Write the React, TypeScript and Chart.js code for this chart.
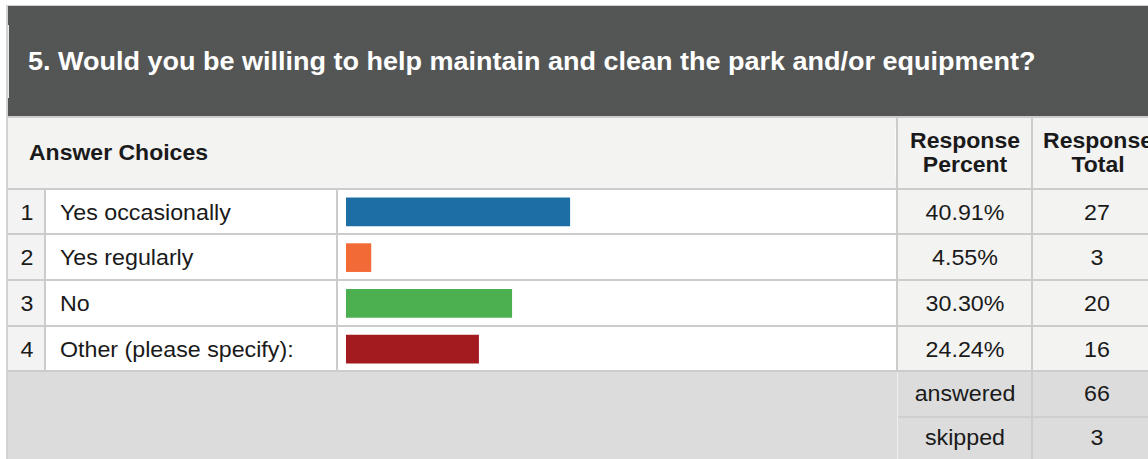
import React, { useEffect, useRef } from "react";
import { Chart, registerables } from "chart.js";

Chart.register(...registerables);

// ---- data ----
const questionTitle = "5. Would you be willing to help maintain and clean the park and/or equipment?";
const categories = ["Yes occasionally", "Yes regularly", "No", "Other (please specify):"];
const responsePercent = [40.91, 4.55, 30.3, 24.24];
const responseTotal = [27, 3, 20, 16];
const answeredCount = 66;
const skippedCount = 3;

// ---- style ----
const barColors = ["#1c6ea4", "#f26a35", "#4caf50", "#a31b1f"];
const FONT = '"Liberation Sans", Arial, Helvetica, sans-serif';
const TEXT = "#1a1a1a";
const LINE = "#cccccc";

type TProps = {
  x: number;
  base: number;
  fs: number;
  bold?: boolean;
  align?: "left" | "center";
  color?: string;
  sx?: number;
  children: React.ReactNode;
};

function T({ x, base, fs, bold, align = "left", color = TEXT, sx = 1.08, children }: TProps) {
  const top = base - 0.8465 * fs;
  const style: React.CSSProperties = {
    position: "absolute",
    left: x,
    top,
    fontFamily: FONT,
    fontSize: fs,
    lineHeight: `${fs}px`,
    fontWeight: bold ? 700 : 400,
    color,
    whiteSpace: "nowrap",
    transformOrigin: align === "center" ? "center" : "left",
    transform: align === "center" ? `translateX(-50%) scaleX(${sx})` : `scaleX(${sx})`,
  };
  return <div style={style}>{children}</div>;
}

function R({ x, y, w, h, c }: { x: number; y: number; w: number; h: number; c: string }) {
  return <div style={{ position: "absolute", left: x, top: y, width: w, height: h, background: c }} />;
}

function BarChart() {
  const ref = useRef<HTMLCanvasElement | null>(null);
  useEffect(() => {
    if (!ref.current) return;
    const chart = new Chart(ref.current, {
      type: "bar",
      data: {
        labels: categories,
        datasets: [
          {
            data: responsePercent,
            backgroundColor: barColors,
            borderWidth: 0,
            barThickness: 28,
          },
        ],
      },
      options: {
        indexAxis: "y",
        animation: false,
        responsive: false,
        maintainAspectRatio: false,
        devicePixelRatio: 1,
        layout: { padding: 0 },
        events: [],
        scales: {
          x: { display: false, min: 0, max: 100 },
          y: { display: false },
        },
        plugins: {
          legend: { display: false },
          tooltip: { enabled: false },
        },
      },
    });
    return () => chart.destroy();
  }, []);
  return (
    <canvas
      ref={ref}
      width={547}
      height={183}
      style={{ position: "absolute", left: 346, top: 189, width: 547, height: 183 }}
    />
  );
}

export default function App() {
  const lineYs = [188, 233, 279, 325, 370];
  const pctX = 965;
  const totX = 1097;
  const bodyFs = 21.5;
  const headFs = 21.5;
  return (
    <div
      style={{
        position: "fixed",
        left: 0,
        top: 0,
        width: 1148,
        height: 459,
        overflow: "hidden",
        background: "#ffffff",
      }}
    >
      {/* outer frame */}
      <R x={6} y={5} w={1142} h={1} c="#d0d0d0" />
      <R x={6} y={5} w={2} h={454} c="#d2d2d2" />
      {/* dark title header */}
      <R x={8} y={6} w={1140} h={110} c="#545655" />
      <R x={8} y={25} w={1} h={73} c="#e8e8e8" />
      <R x={8} y={116} w={1140} h={2} c={LINE} />
      {/* column header row */}
      <R x={8} y={118} w={1140} h={70} c="#f3f3f2" />
      {/* body rows backgrounds */}
      <R x={8} y={190} w={36} h={180} c="#f3f3f3" />
      <R x={898} y={190} w={250} h={180} c="#f3f3f2" />
      {/* footer */}
      <R x={8} y={372} w={1140} h={87} c="#dcdcdc" />
      {/* horizontal lines */}
      {lineYs.map((y, i) => (
        <R key={"h" + i} x={8} y={y} w={1140} h={2} c={LINE} />
      ))}
      <R x={898} y={416} w={250} h={2} c="#cfcfcf" />
      {/* vertical lines */}
      <R x={44} y={190} w={2} h={180} c={LINE} />
      <R x={336} y={190} w={2} h={180} c={LINE} />
      <R x={896} y={118} w={2} h={252} c={LINE} />
      <R x={895} y={128} w={1} h={50} c="#fafafa" />
      <R x={897} y={372} w={1} h={87} c="#eeeeee" />
      <R x={1031} y={118} w={2} h={341} c={LINE} />

      {/* title */}
      <T x={28} base={70.5} fs={25} bold color="#ffffff" sx={1.08}>
        {questionTitle}
      </T>
      {/* header */}
      <T x={29} base={161.5} fs={headFs} bold sx={1.07}>
        Answer Choices
      </T>
      <T x={pctX} base={149.3} fs={headFs} bold align="center" sx={1.07}>
        Response
      </T>
      <T x={pctX} base={173.3} fs={headFs} bold align="center" sx={1.07}>
        Percent
      </T>
      <T x={1098} base={149.3} fs={headFs} bold align="center" sx={1.07}>
        Response
      </T>
      <T x={1098} base={173.3} fs={headFs} bold align="center" sx={1.07}>
        Total
      </T>

      {/* rows */}
      {categories.map((c, i) => {
        const base = lineYs[i] + 33.5;
        return (
          <React.Fragment key={c}>
            <T x={26.5} base={base} fs={bodyFs} align="center">
              {String(i + 1)}
            </T>
            <T x={60} base={base} fs={bodyFs}>
              {c}
            </T>
            <T x={pctX} base={base} fs={bodyFs} align="center">
              {responsePercent[i].toFixed(2) + "%"}
            </T>
            <T x={totX} base={base} fs={bodyFs} align="center">
              {String(responseTotal[i])}
            </T>
          </React.Fragment>
        );
      })}

      {/* footer */}
      <T x={pctX} base={402.3} fs={bodyFs} align="center">
        answered
      </T>
      <T x={totX} base={402.3} fs={bodyFs} align="center">
        {String(answeredCount)}
      </T>
      <T x={pctX} base={445.7} fs={bodyFs} align="center">
        skipped
      </T>
      <T x={totX} base={445.7} fs={bodyFs} align="center">
        {String(skippedCount)}
      </T>

      <BarChart />
    </div>
  );
}
